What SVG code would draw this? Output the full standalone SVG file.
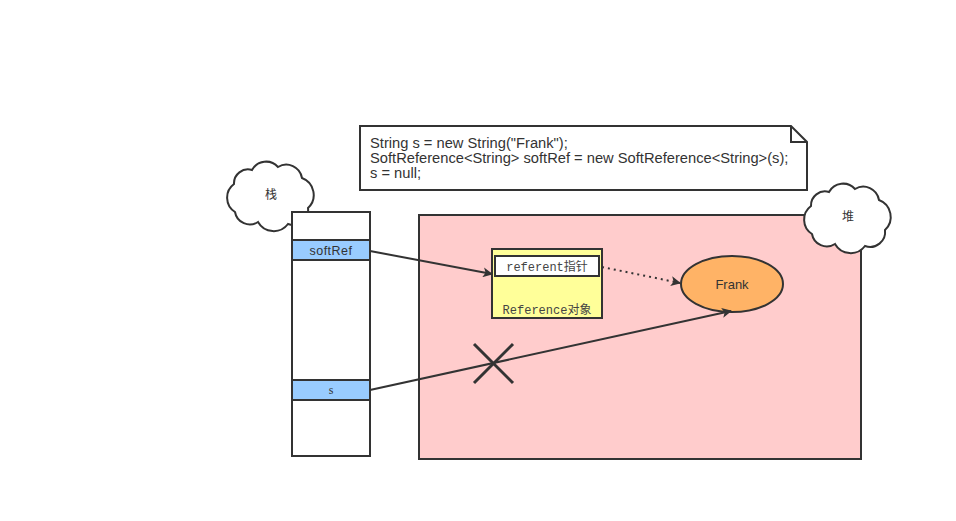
<svg xmlns="http://www.w3.org/2000/svg" width="956" height="521" viewBox="0 0 956 521">
<style>
.s{stroke:#333;stroke-width:2;}
.t{font-family:"Liberation Sans","Noto Sans CJK SC",sans-serif;fill:#333;}
.m{font-family:"Liberation Mono","Noto Sans CJK SC",monospace;fill:#444;font-size:12px;}
.c{stroke:#333;stroke-width:2;fill:none;}
</style>
<defs>
<marker id="ah" markerWidth="10" markerHeight="10" refX="9" refY="5" orient="auto" markerUnits="userSpaceOnUse">
<path d="M0,0 L10,5 L0,10 L2.5,5 Z" fill="#333"/>
</marker>
<path id="cloud" d="M234,184 A14,14 0 0 1 252,170 A16,16 0 0 1 278,167 A16,16 0 0 1 302,178 A18,18 0 0 1 308,208 A15,15 0 0 1 288,224 A18,18 0 0 1 258,222 A15,15 0 0 1 235,212 A17,17 0 0 1 234,184 Z"/>
</defs>
<rect width="956" height="521" fill="#fff"/>
<g id="note">
<path d="M360,126 H791 L807,142 V190 H360 Z" fill="#fff" class="s"/>
<path d="M791,126 V142 H807" fill="none" class="s"/>
<text class="t" font-size="14.7" x="370" y="147.5">String s = new String("Frank");</text>
<text class="t" font-size="14.7" x="370" y="162.5">SoftReference&lt;String&gt; softRef = new SoftReference&lt;String&gt;(s);</text>
<text class="t" font-size="14.7" x="370" y="177.5">s = null;</text>
</g>
<g id="heap">
<rect x="419" y="215" width="442" height="244" fill="#ffcccc" class="s"/>
</g>
<g id="cloud-stack">
<use href="#cloud" fill="#fff" class="s"/>
<text class="t" font-size="12" x="271" y="199" text-anchor="middle">栈</text>
</g>
<g id="cloud-heap">
<use href="#cloud" fill="#fff" class="s" transform="translate(577,22)"/>
<text class="t" font-size="12" x="848" y="221" text-anchor="middle">堆</text>
</g>
<g id="stack">
<rect x="292" y="212" width="78" height="244" fill="#fff" class="s"/>
</g>
<g id="softRef">
<rect x="292" y="240" width="78" height="20" fill="#99ccff" class="s"/>
<text class="t" font-size="12.5" x="331" y="254.5" text-anchor="middle" letter-spacing="0.5">softRef</text>
</g>
<g id="s">
<rect x="292" y="380" width="78" height="20" fill="#99ccff" class="s"/>
<text font-family="Liberation Serif,serif" fill="#333" font-size="12" x="331" y="394" text-anchor="middle">s</text>
</g>
<g id="reference">
<rect x="492" y="249" width="110" height="69" fill="#ffff99" class="s"/>
<text class="m" x="547" y="314" text-anchor="middle">Reference对象</text>
</g>
<g id="referent">
<rect x="495" y="256" width="104" height="20" fill="#fff" class="s"/>
<text class="m" x="547" y="270.5" text-anchor="middle">referent指针</text>
</g>
<g id="frank">
<ellipse cx="732" cy="284" rx="51" ry="28" fill="#ffb366" class="s"/>
<text class="t" font-size="13" x="732" y="288.5" text-anchor="middle">Frank</text>
</g>
<g id="connectors">
<line x1="370" y1="251" x2="492" y2="274" class="c" marker-end="url(#ah)"/>
<line x1="602" y1="267" x2="680" y2="283" class="c" stroke-dasharray="2,4" marker-end="url(#ah)"/>
<line x1="370" y1="390" x2="731" y2="311" class="c" marker-end="url(#ah)"/>
</g>
<g id="cross">
<line x1="474" y1="344" x2="513" y2="383" stroke="#333" stroke-width="3"/>
<line x1="474" y1="383" x2="513" y2="344" stroke="#333" stroke-width="3"/>
</g>
</svg>
